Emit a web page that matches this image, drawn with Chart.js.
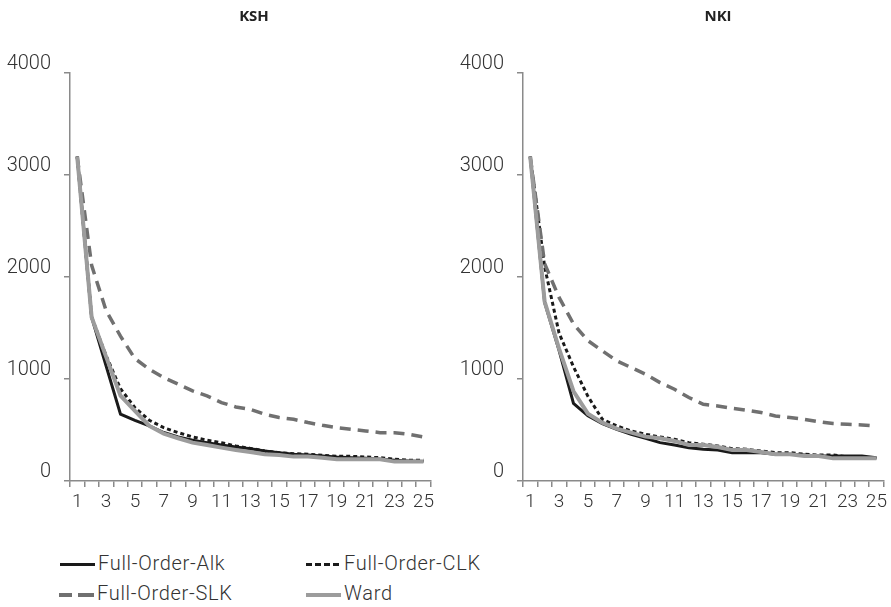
<!DOCTYPE html>
<html>
<head>
<meta charset="utf-8">
<script src="https://cdn.jsdelivr.net/npm/chart.js@4.4.1/dist/chart.umd.min.js"></script>
<style>
  body { margin: 0; background: #fff; width: 891px; height: 607px; position: relative; overflow: hidden; }
  canvas { position: absolute; top: 0; }
  #legend { position: absolute; left: 0; top: 545px; width: 891px; font-family: Roboto, sans-serif; font-weight: 300; font-size: 20px; letter-spacing: 0.7px; color: #333; }
  .item { position: absolute; height: 24px; line-height: 24px; white-space: nowrap; }
  .sample { display: inline-block; vertical-align: middle; width: 35px; height: 4px; margin-right: 3px; }
</style>
</head>
<body>
<canvas id="ksh" width="438" height="525" style="left:0"></canvas>
<canvas id="nki" width="438" height="525" style="left:453px"></canvas>
<div id="legend">
  <div class="item" style="left:60px;top:6px"><span class="sample" style="height:3px;background:#1a1a1a"></span>Full-Order-Alk</div>
  <div class="item" style="left:306px;top:6px"><span class="sample" style="height:3px;background:repeating-linear-gradient(90deg,#1a1a1a 0 6px,transparent 6px 9px)"></span>Full-Order-CLK</div>
  <div class="item" style="left:59px;top:36px"><span class="sample" style="background:linear-gradient(90deg,#707070 0 13px,transparent 13px 19px,#707070 19px 35px)"></span>Full-Order-SLK</div>
  <div class="item" style="left:306px;top:36px"><span class="sample" style="background:#9c9c9c"></span>Ward</div>
</div>
<script>
// number of clusters
let categories = [];
for (let i = 1; i <= 25; i++) categories.push(String(i));

let yTicks = [0, 1000, 2000, 3000, 4000];

// KSH
let kshAlk = [3180,1606,1130,655,595,540,475,432,400,376,353,334,317,294,278,262,255,245,235,229,222,213,203,196,190];
let kshClk = [3180,1606,1230,905,720,595,523,474,432,400,376,343,320,294,278,268,262,252,242,242,235,229,213,203,203];
let kshSlk = [3180,2114,1672,1420,1200,1096,1014,949,883,834,769,726,703,654,622,605,573,546,523,507,491,474,474,458,432];
let kshWard = [3180,1606,1219,836,687,540,465,419,376,353,327,304,285,262,255,239,239,229,213,213,213,213,190,190,190];

// NKI
let nkiAlk = [3180,1750,1280,760,639,563,507,458,419,376,353,327,311,304,278,278,278,262,262,255,245,245,245,245,229];
let nkiClk = [3180,2100,1450,1120,830,605,540,491,458,432,409,376,360,343,317,311,294,278,278,262,255,255,235,235,222];
let nkiSlk = [3180,2130,1800,1540,1376,1276,1178,1112,1047,965,900,818,752,736,713,694,671,638,622,605,582,563,556,550,540];
let nkiWard = [3180,1760,1298,880,660,572,514,474,435,419,393,353,353,334,304,304,285,262,262,245,245,222,222,222,222];

const axisGray = '#8a8a8a';

// move the title box so its text is centred at titleX (canvas px)
function titleAt(titleX) {
    return {
        id: 'titleAt',
        afterLayout(chart) {
            let t = chart.titleBlock;
            t.left = titleX - 60;
            t.right = titleX + 60;
            t.width = 120;
        }
    };
}

function makeChart(id, title, titleX, alk, clk, slk, ward) {
    let ctx = document.getElementById(id).getContext('2d');
    return new Chart(ctx, {
        type: 'line',
        data: {
            labels: categories,
            datasets: [
                { label: 'Ward', data: ward, borderColor: '#9c9c9c', borderWidth: 4, order: 0 },
                { label: 'Full-Order-SLK', data: slk, borderColor: '#707070', borderWidth: 3.5, borderDash: [11, 7], order: 1 },
                { label: 'Full-Order-CLK', data: clk, borderColor: '#1a1a1a', borderWidth: 3, borderDash: [4, 3], order: 2 },
                { label: 'Full-Order-Alk', data: alk, borderColor: '#1a1a1a', borderWidth: 3, order: 3 }
            ]
        },
        plugins: [titleAt(titleX)],
        options: {
            responsive: false,
            animation: false,
            devicePixelRatio: 1,
            elements: { point: { radius: 0 }, line: { tension: 0, fill: false } },
            layout: { padding: { top: 0, right: 4, left: 0, bottom: 0 } },
            plugins: {
                legend: { display: false },
                tooltip: { enabled: false },
                title: {
                    display: true,
                    text: title,
                    color: '#222',
                    font: { family: 'Open Sans', weight: 'bold', size: 15 },
                    padding: { top: 8, bottom: 47 }
                }
            },
            scales: {
                x: {
                    offset: true,
                    grid: { offset: true, drawOnChartArea: false, drawTicks: true, tickLength: 6, color: axisGray, lineWidth: 1.5 },
                    border: { color: axisGray, width: 1.5 },
                    ticks: {
                        autoSkip: false,
                        maxRotation: 0,
                        padding: 4,
                        color: '#333',
                        font: { family: 'Roboto', weight: '300', size: 19 },
                        callback: function (v, i) { return i % 2 === 0 ? categories[i] : ''; }
                    },
                    afterFit: function (s) { s.height = 44; }
                },
                y: {
                    min: 0,
                    max: 4000,
                    afterBuildTicks: function (s) { s.ticks = yTicks.map(v => ({ value: v })); },
                    grid: { drawOnChartArea: false, drawTicks: true, tickLength: 6, color: axisGray, lineWidth: 1.5 },
                    border: { color: axisGray, width: 1.5 },
                    ticks: { color: '#333', font: { family: 'Roboto', weight: '300', size: 20 }, padding: 13, labelOffset: -9, callback: v => String(v) },
                    afterFit: function (s) { s.width = 70; }
                }
            }
        }
    });
}

makeChart('ksh', 'KSH', 254, kshAlk, kshClk, kshSlk, kshWard);
makeChart('nki', 'NKI', 265, nkiAlk, nkiClk, nkiSlk, nkiWard);
</script>
</body>
</html>
